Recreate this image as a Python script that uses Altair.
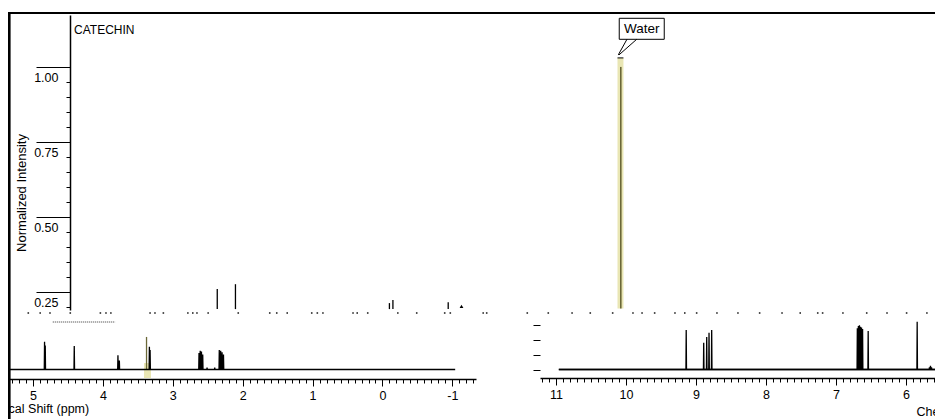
import altair as alt
import pandas as pd

FONT = "Liberation Sans"
W, H = 927, 411
XR = 935  # pixel extent of the full ppm window (content past W is cut, as in the screenshot)

# ---------------- values ----------------
# upper panel (normalized intensity), x in ppm
top_peak_ppm = [15.84, 15.58, 13.38, 13.33, 12.54]
top_peak_int = [0.310, 0.326, 0.263, 0.273, 0.266]
top_floor_int = 0.243
noise_dot_ppm = [18.54, 18.37, 18.23, 17.94, 17.51, 17.43, 17.36, 16.80, 16.73, 16.61,
                 16.26, 16.19, 16.13, 15.97, 15.54, 15.09, 14.99, 14.84, 14.49, 14.41,
                 14.33, 13.90, 13.84, 13.69, 13.26, 12.99, 12.59, 12.51, 12.04, 11.99,
                 11.41, 11.11, 10.77, 10.51, 10.19, 9.90, 9.77, 9.59, 9.30, 9.16,
                 8.99, 8.70, 8.40, 8.09, 7.77, 7.51, 7.26, 7.19, 6.90, 6.56,
                 6.27, 5.99, 5.70, 5.56]
noise_dot_int = 0.23
triangle_ppm = [12.35]
triangle_int = [0.252]
dotted_span_ppm = [18.19, 17.30]
dotted_span_int = 0.20
water_ppm = 10.074
water_int = 1.05
water_band_ppm = [10.121, 10.036]
water_band_int = [0.245, 1.08]
water_box_ppm = [10.096, 9.453]
water_box_int = [1.142, 1.212]
water_label_ppm = 9.775
water_label_int = 1.163
water_tail_start_ppm = [9.986, 9.847]
water_tail_end_ppm = [10.11, 10.10]
water_tail_int = [1.142, 1.09]
catechin_ppm = 17.886
catechin_int = 1.16

top_tick_values = [0.25, 0.35, 0.40, 0.45, 0.50, 0.60, 0.65, 0.70, 0.75,
                   0.85, 0.90, 0.95, 1.00]
top_long_ticks = [0.30, 0.55, 0.80, 1.05]

# lower-left panel (ppm 5 .. -1)
bl_peak_ppm = [4.835, 4.825, 4.41, 3.785, 3.765, 3.335, 3.325,
               2.625, 2.608, 2.590, 2.572, 2.51, 2.40,
               2.335, 2.315, 2.295, 2.275]
bl_peak_int = [1.85, 1.60, 1.57, 0.95, 0.60, 1.52, 1.30,
               1.10, 1.25, 1.20, 1.00, 0.12, 0.12,
               1.30, 1.25, 1.15, 1.00]
bl_span = [5.358, -1.04]
bl_mark_ppm = 3.376
bl_mark_int = 2.17
bl_band_ppm = [3.412, 3.312]
bl_band_int = [-0.57, 0.43]
bl_major = [5, 4, 3, 2, 1, 0, -1]

# lower-right panel (ppm 11 .. 6)
br_peak_ppm = [9.14, 8.89, 8.847, 8.814, 8.776, 6.695, 6.68, 6.665, 6.65, 6.635,
               6.62, 6.54, 5.84, 5.665, 5.65, 5.635]
br_peak_int = [2.63, 1.78, 2.17, 2.45, 2.63, 2.75, 2.90, 2.95, 2.85, 2.80,
               2.70, 2.57, 3.19, 0.15, 0.25, 0.15]
br_span = [10.96, 5.471]
br_major = [11, 10, 9, 8, 7, 6]
sub_ticks = [0, 1, 2, 3]

bl_minor = [round(5.3 - 0.1 * i, 1) for i in range(67)]
bl_minor = [v for v in bl_minor if abs(v - round(v)) > 0.01]
br_minor = [round(11.2 - 0.1 * i, 1) for i in range(58)]
br_minor = [v for v in br_minor if abs(v - round(v)) > 0.01]

YELLOW = "#e9e6b4"
OLIVE = "#6b6838"


def spectrum(span, ppm, inten, hw=0.004):
    rows = [(span[0], 0.0)]
    for p, h in zip(ppm, inten):
        rows += [(p + hw, 0.0), (p, h), (p - hw, 0.0)]
    rows.append((span[1], 0.0))
    return pd.DataFrame(rows, columns=["ppm", "inten"])


top_x = alt.Scale(domain=[18.83, 5.47], range=[0, XR], nice=False, zero=False)
top_y = alt.Scale(domain=[0.24, 1.223], range=[302, 7], nice=False, zero=False)
bl_x = alt.Scale(domain=[5.358, -1.338], range=[0, 468], nice=False, zero=False)
br_x = alt.Scale(domain=[11.229, 5.471], range=[532, XR], nice=False, zero=False)
sub_y = alt.Scale(domain=[0, 3], range=[361.5, 316.5], nice=False, zero=False)


def tx(field):
    return alt.X(field, type="quantitative", scale=top_x, axis=None)


def ty(field):
    return alt.Y(field, type="quantitative", scale=top_y, axis=None)


one = pd.DataFrame({"a": [0]})

# ---------- upper panel ----------
water_band = alt.Chart(pd.DataFrame({
    "x1": [water_band_ppm[0]], "x2": [water_band_ppm[1]],
    "y1": [water_band_int[0]], "y2": [water_band_int[1]]})).mark_rect(color=YELLOW).encode(
    x=tx("x1"), x2="x2",
    y=alt.Y("y1:Q", scale=top_y,
            axis=alt.Axis(orient="left", offset=-62, values=top_long_ticks, tickSize=34,
                          labels=False, domain=False, title=None, grid=False,
                          tickWidth=1)),
    y2="y2")

water_line = alt.Chart(pd.DataFrame({
    "x": [water_ppm], "lo": [water_band_int[0]], "hi": [water_int]})).mark_rule(
    color=OLIVE, strokeWidth=1.6).encode(x=tx("x"), y=ty("lo"), y2="hi")

water_cap = alt.Chart(pd.DataFrame({
    "x1": [water_band_ppm[0]], "x2": [water_band_ppm[1]], "y": [water_band_int[1]]})).mark_rule(
    color="black", strokeWidth=1).encode(x=tx("x1"), x2="x2", y=ty("y"))

top_peaks = alt.Chart(pd.DataFrame({
    "x": top_peak_ppm, "lo": [top_floor_int] * len(top_peak_ppm), "hi": top_peak_int})).mark_rule(
    color="black", strokeWidth=1.3).encode(
    x=tx("x"),
    y=alt.Y("lo:Q", scale=top_y,
            axis=alt.Axis(orient="left", offset=-62, values=top_tick_values, tickSize=4,
                          labelPadding=8, labelBaseline="alphabetic",
                          labelExpr="abs(datum.value*4 - round(datum.value*4)) < 0.001 ? format(datum.value, '.2f') : ''",
                          labelFontSize=12.5, labelOverlap=False, labelFlush=False,
                          title="Normalized Intensity", titleX=-45, titleY=184.5,
                          titleAngle=270, titleAlign="center", titleBaseline="alphabetic",
                          titleFontSize=13, domainWidth=1.5, grid=False)),
    y2="hi")

noise = alt.Chart(pd.DataFrame({
    "x": noise_dot_ppm, "y": [noise_dot_int] * len(noise_dot_ppm)})).mark_square(
    size=2.5, color="#222222", opacity=1).encode(x=tx("x"), y=ty("y"))

tri = alt.Chart(pd.DataFrame({"x": triangle_ppm, "y": triangle_int})).mark_point(
    shape="triangle-up", size=14, filled=True, color="black", opacity=1).encode(
    x=tx("x"), y=ty("y"))

dotted = alt.Chart(pd.DataFrame({
    "x1": [dotted_span_ppm[0]], "x2": [dotted_span_ppm[1]], "y": [dotted_span_int]})).mark_rule(
    color="#333333", strokeWidth=1, strokeDash=[1, 1]).encode(x=tx("x1"), x2="x2", y=ty("y"))

catechin = alt.Chart(pd.DataFrame({
    "x": [catechin_ppm], "y": [catechin_int], "t": ["CATECHIN"]})).mark_text(
    align="left", baseline="alphabetic", fontSize=12, color="black").encode(
    x=tx("x"), y=ty("y"), text="t:N")

water_box = alt.Chart(pd.DataFrame({
    "x1": [water_box_ppm[0]], "x2": [water_box_ppm[1]],
    "y1": [water_box_int[0]], "y2": [water_box_int[1]]})).mark_rect(
    fill="white", stroke="black", strokeWidth=1).encode(
    x=tx("x1"), x2="x2", y=ty("y1"), y2="y2")

water_text = alt.Chart(pd.DataFrame({
    "x": [water_label_ppm], "y": [water_label_int], "t": ["Water"]})).mark_text(
    align="center", baseline="alphabetic", fontSize=13.5, color="black").encode(
    x=tx("x"), y=ty("y"), text="t:N")

water_tail = alt.Chart(pd.DataFrame({
    "x1": water_tail_start_ppm, "x2": water_tail_end_ppm,
    "y1": [water_tail_int[0]] * 2, "y2": [water_tail_int[1]] * 2})).mark_rule(
    color="black", strokeWidth=1).encode(x=tx("x1"), x2="x2", y=ty("y1"), y2="y2")

# ---------- lower-left panel ----------
bl_band = alt.Chart(pd.DataFrame({
    "x1": [bl_band_ppm[0]], "x2": [bl_band_ppm[1]],
    "y1": [bl_band_int[0]], "y2": [bl_band_int[1]]})).mark_rect(color=YELLOW).encode(
    x=alt.X("x1:Q", scale=bl_x,
            axis=alt.Axis(orient="bottom", offset=-40, values=bl_minor, tickSize=4,
                          labels=False, domain=False, title=None, grid=False)),
    x2="x2",
    y=alt.Y("y1:Q", scale=sub_y, axis=None), y2="y2")

bl_mark = alt.Chart(pd.DataFrame({
    "x": [bl_mark_ppm], "lo": [0.0], "hi": [bl_mark_int]})).mark_rule(
    color=OLIVE, strokeWidth=1.3).encode(
    x=alt.X("x:Q", scale=bl_x, axis=None),
    y=alt.Y("lo:Q", scale=sub_y, axis=None), y2="hi")

bl_line = alt.Chart(spectrum(bl_span, bl_peak_ppm, bl_peak_int)).mark_line(
    color="black", strokeWidth=1.3).encode(
    x=alt.X("ppm:Q", scale=bl_x,
            axis=alt.Axis(orient="bottom", offset=-40, values=bl_major, tickSize=7,
                          labelPadding=3, labelExpr="toString(datum.value)",
                          labelFontSize=12.5, labelFlush=False, labelOverlap=False,
                          title="Chemical Shift (ppm)", titleX=-36, titleY=33,
                          titleAlign="left", titleBaseline="alphabetic", titleAngle=0,
                          titleFontSize=12.5, domainWidth=1.3, grid=False)),
    y=alt.Y("inten:Q", scale=sub_y, axis=None))

# ---------- lower-right panel ----------
br_base = alt.Chart(pd.DataFrame({
    "x1": [br_span[0]], "x2": [br_span[1]], "y": [0.0]})).mark_rule(
    color="black", strokeWidth=1.3).encode(
    x=alt.X("x1:Q", scale=br_x,
            axis=alt.Axis(orient="bottom", offset=-41, values=br_minor, tickSize=4,
                          labels=False, domain=False, title=None, grid=False)),
    x2="x2",
    y=alt.Y("y:Q", scale=sub_y, axis=None))

br_line = alt.Chart(spectrum(br_span, br_peak_ppm, br_peak_int)).mark_line(
    color="black", strokeWidth=1.3).encode(
    x=alt.X("ppm:Q", scale=br_x,
            axis=alt.Axis(orient="bottom", offset=-41, values=br_major, tickSize=7,
                          labelPadding=3, labelExpr="toString(datum.value)",
                          labelFontSize=12.5, labelFlush=False, labelOverlap=False,
                          title="Chemical Shift (ppm)", titleX=908, titleY=37,
                          titleAlign="left", titleBaseline="alphabetic", titleAngle=0,
                          titleFontSize=12.5, domainWidth=1.3, grid=False)),
    y=alt.Y("inten:Q", scale=sub_y,
            axis=alt.Axis(orient="left", offset=-532, values=sub_ticks, tickSize=7,
                          labels=False, domain=False, title=None, grid=False)))

# ---------- window frame ----------
frame_top = alt.Chart(one).mark_rule(color="black", strokeWidth=2).encode(
    x=alt.value(0), x2=alt.value(W), y=alt.value(5))
frame_left = alt.Chart(one).mark_rule(color="black", strokeWidth=2.6).encode(
    x=alt.value(1.3), y=alt.value(4), y2=alt.value(H))

chart = alt.layer(
    water_band, water_line, water_cap, top_peaks, noise, tri, dotted, catechin,
    water_box, water_tail, water_text,
    bl_band, bl_mark, bl_line,
    br_base, br_line,
    frame_top, frame_left,
).resolve_scale(x="independent", y="independent").properties(
    width=W, height=H, autosize=alt.AutoSizeParams(type="none"), padding=0,
    background="white",
).configure_view(stroke=None).configure_axis(
    labelFont=FONT, titleFont=FONT, labelColor="black", titleColor="black",
    domainColor="black", tickColor="black", titleFontWeight="normal", grid=False,
).configure_text(font=FONT)

chart.save("out.html", embed_options={"renderer": "svg", "actions": False})
